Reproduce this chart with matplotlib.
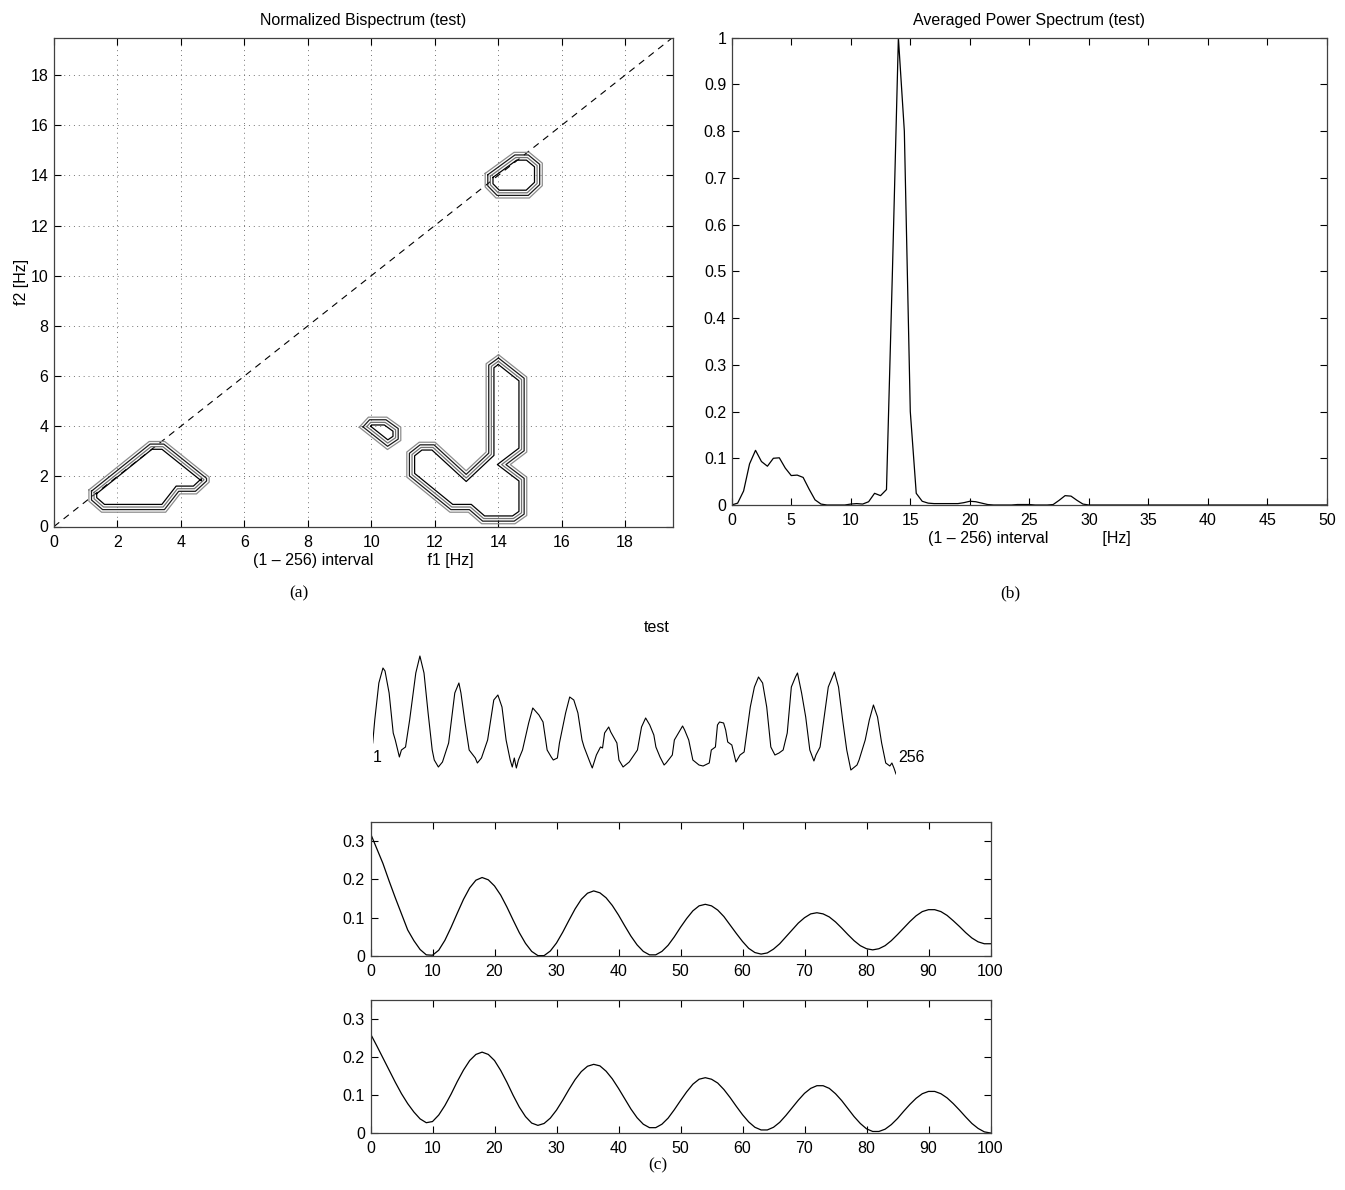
import numpy as np
import matplotlib
matplotlib.use("Agg")
import matplotlib.pyplot as plt
from matplotlib.ticker import FuncFormatter

plt.rcParams['font.family'] = ['Liberation Sans', 'DejaVu Sans']

# ---------------- data ----------------
# (a) bispectrum contour outlines (outer ring vertices, f1/f2 in Hz)
blob1_f1 = [1.10, 1.10, 1.50, 3.52, 3.97, 4.49, 4.89, 4.89, 3.49, 3.00]
blob1_f2 = [1.46, 1.01, 0.57, 0.57, 1.30, 1.30, 1.77, 1.97, 3.39, 3.39]
blob2_f1 = [13.59, 13.59, 13.93, 14.98, 15.39, 15.39, 14.98, 14.50]
blob2_f2 = [14.08, 13.54, 13.10, 13.10, 13.59, 14.49, 14.92, 14.92]
blob3_f1 = [9.62, 9.91, 10.49, 10.93, 10.93, 10.51]
blob3_f2 = [3.96, 4.36, 4.36, 3.96, 3.43, 3.07]
blob4_f1 = [14.01, 14.90, 14.90, 14.38, 14.90, 14.90, 14.53, 13.48, 13.06, 12.48,
            11.12, 11.12, 11.51, 12.01, 12.99, 13.62, 13.62]
blob4_f2 = [6.85, 5.96, 2.97, 2.47, 1.97, 0.44, 0.11, 0.11, 0.57, 0.57,
            1.97, 2.97, 3.36, 3.36, 2.22, 2.97, 6.49]
a_ticks = [0, 2, 4, 6, 8, 10, 12, 14, 16, 18]

# (b) averaged power spectrum, 0.5 Hz bins
ps_freq = np.linspace(0, 50, 101)
ps_vals = [0.000, 0.004, 0.030, 0.088, 0.117, 0.093, 0.083, 0.100, 0.101, 0.079,
           0.063, 0.064, 0.059, 0.034, 0.011, 0.002, 0.000, 0.000, 0.000, 0.000,
           0.002, 0.003, 0.002, 0.007, 0.025, 0.020, 0.033, 0.500, 1.000, 0.800,
           0.200, 0.025, 0.008, 0.004, 0.003, 0.003, 0.003, 0.003, 0.003, 0.005,
           0.008, 0.007, 0.004, 0.001, 0.000, 0.000, 0.000, 0.000, 0.001, 0.001,
           0.001, 0.000, 0.000, 0.000, 0.001, 0.010, 0.020, 0.019, 0.010, 0.002,
           0.000, 0.000, 0.000, 0.000, 0.000, 0.000, 0.000, 0.000, 0.000, 0.000,
           0.000, 0.000, 0.000, 0.000, 0.000, 0.000, 0.000, 0.000, 0.000, 0.000,
           0.000, 0.000, 0.000, 0.000, 0.000, 0.000, 0.000, 0.000, 0.000, 0.000,
           0.000, 0.000, 0.000, 0.000, 0.000, 0.000, 0.000, 0.000, 0.000, 0.000,
           0.000]
b_xticks = [0, 5, 10, 15, 20, 25, 30, 35, 40, 45, 50]
b_yticks = [0, 0.1, 0.2, 0.3, 0.4, 0.5, 0.6, 0.7, 0.8, 0.9, 1.0]

# (c) raw signal (sample index 1..256, arbitrary amplitude)
sig_n = [1, 2, 4, 6, 7, 9, 11, 12, 14, 15, 17, 19, 22, 24, 26, 28, 30, 31, 33, 35,
         38, 41, 43, 44, 46, 48, 51, 52, 54, 57, 60, 62, 64, 66, 68, 69, 70, 71, 72, 74,
         77, 79, 82, 84, 86, 88, 89, 91, 92, 95, 97, 99, 101, 103, 104, 107, 108, 110, 112, 113,
         114, 116, 117, 120, 121, 123,
         126, 130, 132, 134, 136, 138, 139, 141, 143, 144, 147, 148, 152, 153, 155, 157, 160, 162,
         165, 166, 168, 169, 170, 172, 173, 174, 176, 178, 180, 182, 185, 187, 189, 191, 193, 195,
         197, 199, 201, 203, 205, 207, 208, 210, 212, 214, 216, 217, 219, 221, 223, 226, 228, 230,
         232, 234, 237, 238, 241, 243, 245, 247, 249, 251, 253, 254, 255, 256]
sig_v = [32, 55, 92, 107, 104, 82, 42, 35, 18, 25, 28, 55, 102, 119, 102, 62, 25, 15, 8, 13,
         32, 82, 92, 82, 52, 25, 17, 12, 17, 35, 75, 80, 68, 35, 15, 8, 17, 7, 15, 25,
         52, 67, 60, 53, 25, 18, 15, 17, 32, 62, 78, 75, 62, 35, 28, 12, 7, 20, 28, 27,
         42, 48, 43, 32, 15, 8,
         13, 25, 48, 57, 50, 40, 28, 18, 10, 12, 20, 35, 49, 45, 35, 15, 10, 9,
         12, 25, 28, 50, 53, 52, 45, 33, 30, 13, 20, 23, 68, 88, 98, 92, 68, 28,
         20, 22, 25, 42, 88, 98, 102, 82, 58, 25, 14, 20, 28, 58, 88, 103, 88, 55,
         25, 5, 10, 15, 35, 55, 70, 58, 32, 12, 9, 12, 7, 1]

# (c) two correlation-like curves, lags 0..100
lags = np.arange(0, 101)
corr1 = [0.320, 0.281, 0.242, 0.196, 0.152, 0.110, 0.068, 0.040, 0.017, 0.003,
         0.002, 0.015, 0.041, 0.075, 0.112, 0.148, 0.178, 0.198, 0.205, 0.199,
         0.183, 0.159, 0.128, 0.094, 0.061, 0.033, 0.012, 0.001, 0.001, 0.013,
         0.034, 0.062, 0.093, 0.123, 0.148, 0.164, 0.170, 0.165, 0.152, 0.132,
         0.107, 0.079, 0.052, 0.029, 0.012, 0.003, 0.003, 0.012, 0.028, 0.050,
         0.075, 0.098, 0.118, 0.131, 0.135, 0.131, 0.120, 0.103, 0.081, 0.059,
         0.038, 0.020, 0.009, 0.005, 0.008, 0.018, 0.032, 0.050, 0.068, 0.086,
         0.100, 0.110, 0.113, 0.110, 0.102, 0.089, 0.073, 0.056, 0.040, 0.027,
         0.019, 0.016, 0.019, 0.027, 0.040, 0.056, 0.073, 0.090, 0.105, 0.116,
         0.121, 0.121, 0.116, 0.106, 0.092, 0.077, 0.061, 0.047, 0.037, 0.032,
         0.032]
corr2 = [0.260, 0.229, 0.197, 0.165, 0.133, 0.103, 0.077, 0.055, 0.037, 0.027,
         0.030, 0.047, 0.072, 0.102, 0.135, 0.165, 0.190, 0.206, 0.212, 0.206,
         0.190, 0.164, 0.133, 0.099, 0.068, 0.043, 0.026, 0.020, 0.025, 0.039,
         0.060, 0.086, 0.114, 0.140, 0.161, 0.175, 0.180, 0.176, 0.162, 0.142,
         0.117, 0.090, 0.063, 0.040, 0.023, 0.014, 0.014, 0.023, 0.039, 0.061,
         0.085, 0.108, 0.128, 0.141, 0.145, 0.141, 0.131, 0.114, 0.093, 0.070,
         0.048, 0.029, 0.015, 0.008, 0.008, 0.015, 0.028, 0.046, 0.066, 0.086,
         0.104, 0.117, 0.124, 0.124, 0.117, 0.103, 0.085, 0.064, 0.043, 0.025,
         0.011, 0.004, 0.004, 0.010, 0.022, 0.038, 0.057, 0.075, 0.091, 0.103,
         0.109, 0.109, 0.103, 0.092, 0.077, 0.060, 0.042, 0.025, 0.012, 0.003,
         0.000]
c_xticks = [0, 10, 20, 30, 40, 50, 60, 70, 80, 90, 100]
c_yticks = [0, 0.1, 0.2, 0.3]

# ---------------- layout helpers ----------------
W, H = 1345, 1190
fig = plt.figure(figsize=(W / 100, H / 100), dpi=100)


def add_ax(l, t, r, b):
    return fig.add_axes([l / W, 1 - b / H, (r - l) / W, (b - t) / H])


FS = 11.5
gfmt = FuncFormatter(lambda v, p: '%g' % round(v, 6))


def matlab_style(ax, length=5):
    ax.tick_params(direction='in', top=True, right=True, length=length,
                   width=0.8, labelsize=FS, pad=4)
    ax.tick_params(axis='x', pad=6)
    for s in ax.spines.values():
        s.set_linewidth(0.9)
        s.set_color('0.25')


def offset_ring(xs, ys, d, sx, sy):
    P = np.column_stack([np.asarray(xs, float) * sx, np.asarray(ys, float) * sy])
    area = 0.5 * np.sum(P[:, 0] * np.roll(P[:, 1], -1) - np.roll(P[:, 0], -1) * P[:, 1])
    sgn = 1.0 if area > 0 else -1.0
    n = len(P)
    out = []
    for i in range(n):
        p0, p1, p2 = P[i - 1], P[i], P[(i + 1) % n]
        e1 = (p1 - p0) / np.hypot(*(p1 - p0))
        e2 = (p2 - p1) / np.hypot(*(p2 - p1))
        n1 = sgn * np.array([-e1[1], e1[0]])
        n2 = sgn * np.array([-e2[1], e2[0]])
        out.append(p1 + d * (n1 + n2) / (1 + np.dot(n1, n2)))
    out.append(out[0])
    out = np.array(out)
    return out[:, 0] / sx, out[:, 1] / sy


# ---------------- (a) ----------------
axa = add_ax(54, 37.5, 672.7, 526.5)
axa.set_xlim(0, 19.5)
axa.set_ylim(0, 19.5)
axa.set_xticks(a_ticks)
axa.set_yticks(a_ticks)
matlab_style(axa)
axa.grid(True, linestyle=(0, (1, 4)), color='0.45', linewidth=0.7)
axa.plot([0, 19.5], [0, 19.5], color='black', linewidth=0.8, linestyle=(0, (6, 5)))
sx = 618.7 / 19.5
sy = 489.0 / 19.5
ring_colors = ['0.55', '0.1', '0.45', '0.0']
for bx, by in [(blob1_f1, blob1_f2), (blob2_f1, blob2_f2),
               (blob3_f1, blob3_f2), (blob4_f1, blob4_f2)]:
    for k, c in enumerate(ring_colors):
        rx, ry = offset_ring(bx, by, 2.6 * k, sx, sy)
        axa.plot(rx, ry, color=c, linewidth=0.9)
axa.set_title('Normalized Bispectrum (test)', fontsize=FS, pad=9)
axa.set_xlabel('(1 \u2013 256) interval' + ' ' * 12 + 'f1 [Hz]', fontsize=FS, labelpad=2)
axa.set_ylabel('f2 [Hz]', fontsize=FS, labelpad=1)

# ---------------- (b) ----------------
axb = add_ax(731.7, 37.7, 1327, 505)
axb.plot(ps_freq, ps_vals, color='black', linewidth=0.9)
axb.set_xlim(0, 50)
axb.set_ylim(0, 1)
axb.set_xticks(b_xticks)
axb.set_yticks(b_yticks)
axb.yaxis.set_major_formatter(gfmt)
matlab_style(axb)
axb.set_title('Averaged Power Spectrum (test)', fontsize=FS, pad=9)
axb.set_xlabel('(1 \u2013 256) interval' + ' ' * 12 + '[Hz]', fontsize=FS, labelpad=2)

# ---------------- (c) signal ----------------
axs = add_ax(372.7, 655, 896, 775)
axs.plot(sig_n, sig_v, color='black', linewidth=0.8)
axs.set_xlim(1, 256)
axs.set_ylim(0, 120)
axs.axis('off')
axs.text(1, 18, '1', fontsize=FS, ha='left', va='center')
axs.text(257, 18, '256', fontsize=FS, ha='left', va='center')
fig.text(657 / W, 1 - 628 / H, 'test', fontsize=FS, ha='center', va='center')

# ---------------- (c) curves ----------------
for (t, b), vals in [((822, 956), corr1), ((999.5, 1133), corr2)]:
    ax = add_ax(370.5, t, 990.5, b)
    ax.plot(lags, vals, color='black', linewidth=0.9)
    ax.set_xlim(0, 100)
    ax.set_ylim(0, 0.35)
    ax.set_xticks(c_xticks)
    ax.set_yticks(c_yticks)
    ax.yaxis.set_major_formatter(gfmt)
    matlab_style(ax)

# panel letters
for x, y, s in [(299, 593, '(a)'), (1010, 593, '(b)'), (658, 1165, '(c)')]:
    fig.text(x / W, 1 - y / H, s, fontsize=12.5, family='Liberation Serif',
             ha='center', va='center')

fig.savefig('out.png', dpi=100)
